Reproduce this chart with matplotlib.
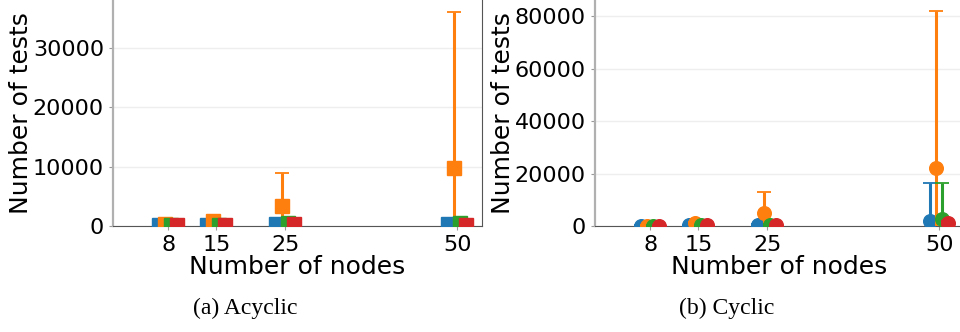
import matplotlib
matplotlib.use("Agg")
import matplotlib.pyplot as plt
import numpy as np

# number of nodes on the x axis
nodes = [8, 15, 25, 50]
colors = ["#1f77b4", "#ff7f0e", "#2ca02c", "#d62728"]
offsets = [-1.3, -0.45, 0.45, 1.3]

# (a) acyclic: mean and std of number of tests, one list per series
acyc_mean = [
    [250, 250, 300, 420],
    [420, 810, 3370, 9780],
    [250, 250, 470, 590],
    [250, 170, 300, 250],
]
acyc_std = [
    [100, 100, 150, 300],
    [150, 300, 5630, 26250],
    [100, 100, 200, 400],
    [100, 100, 150, 200],
]

# (b) cyclic
cyc_mean = [
    [190, 250, 380, 1900],
    [190, 1070, 4950, 22100],
    [190, 250, 380, 2670],
    [190, 250, 200, 1140],
]
cyc_std = [
    [100, 100, 200, 14600],
    [100, 400, 8000, 59900],
    [100, 100, 200, 13700],
    [100, 100, 100, 800],
]

W, H = 960, 332
fig = plt.figure(figsize=(W / 100, H / 100), dpi=100)

ax1 = fig.add_axes([113 / W, 1 - 226 / H, 369 / W, 226 / H])
ax2 = fig.add_axes([595 / W, 1 - 226 / H, 369 / W, 226 / H])


def draw(ax, means, stds, marker, ms, ymax, yticks):
    for i in range(4):
        xs = np.array(nodes) + offsets[i]
        ax.errorbar(xs, means[i], yerr=stds[i], fmt=marker, color=colors[i],
                    ms=ms, elinewidth=2.2, capsize=5, capthick=1.3,
                    zorder=3 + i)
    ax.set_xlim(0, 53.6)
    ax.set_ylim(0, ymax)
    ax.set_xticks(nodes)
    ax.set_yticks(yticks)
    ax.tick_params(labelsize=16, length=3, color="#999999")
    ax.yaxis.grid(True, color="#eeeeee", lw=1)
    ax.set_axisbelow(True)
    ax.spines["left"].set_color("#b0b0b0")
    ax.spines["left"].set_linewidth(1.6)
    ax.spines["bottom"].set_color("#555555")
    ax.spines["right"].set_color("#555555")
    ax.spines["top"].set_visible(False)
    ax.set_xlabel("Number of nodes", fontsize=18, labelpad=0)
    ax.set_ylabel("Number of tests", fontsize=18, labelpad=0)


draw(ax1, acyc_mean, acyc_std, "s", 9.4, 38100, [0, 10000, 20000, 30000])
draw(ax2, cyc_mean, cyc_std, "o", 9.8, 86100, [0, 20000, 40000, 60000, 80000])

fig.text(245 / W, 1 - 308 / H, "(a) Acyclic", family="Liberation Serif",
         fontsize=17, ha="center", va="center")
fig.text(727 / W, 1 - 308 / H, "(b) Cyclic", family="Liberation Serif",
         fontsize=17, ha="center", va="center")

fig.savefig("out.png", dpi=100)
